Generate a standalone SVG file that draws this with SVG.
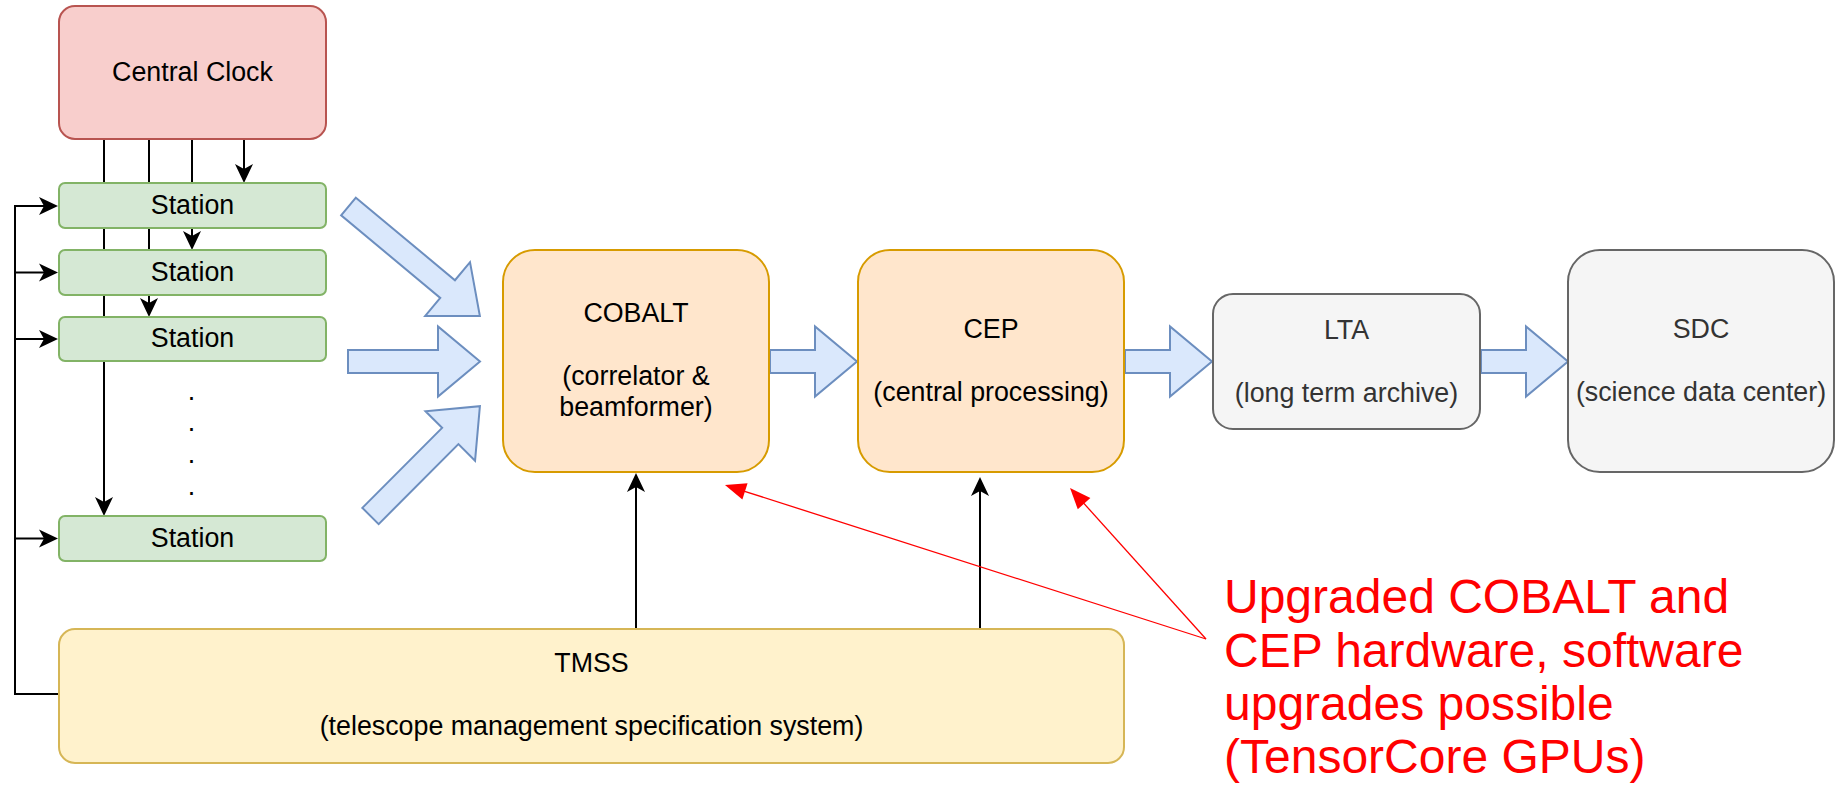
<svg xmlns="http://www.w3.org/2000/svg" width="1839" height="786" viewBox="0 0 1839 786">
  <style>
    text { font-family: "Liberation Sans", Arial, sans-serif; font-size: 26.8px; text-anchor: middle; fill: #000000; }
    .muted { fill: #333333; }
    .note { font-size: 48px; text-anchor: start; fill: #ff0000; }
    .red  { fill: #f8cecc; stroke: #b85450; stroke-width: 2; }
    .green { fill: #d5e8d4; stroke: #82b366; stroke-width: 2; }
    .orange { fill: #ffe6cc; stroke: #d79b00; stroke-width: 2; }
    .yellow { fill: #fff2cc; stroke: #d6b656; stroke-width: 2; }
    .gray { fill: #f5f5f5; stroke: #666666; stroke-width: 2; }
    .flow { fill: #dae8fc; stroke: #6c8ebf; stroke-width: 2; stroke-linejoin: miter; }
    .wire { fill: none; stroke: #000000; stroke-width: 2; }
    .hint { fill: none; stroke: #ff0000; stroke-width: 1.3; }
  </style>
  <defs>
    <!-- classic notched arrowhead; tip sits 12 units past the path end -->
    <marker id="classic" viewBox="-20 -10 21 20" refX="-12" refY="0" markerWidth="21" markerHeight="20" markerUnits="userSpaceOnUse" orient="auto">
      <path d="M0,0 L-19,-9 L-14,0 L-19,9 Z" fill="#000000"/>
    </marker>
    <!-- filled red block arrowhead -->
    <marker id="block" viewBox="-22 -10 23 20" refX="-14" refY="0" markerWidth="23" markerHeight="20" markerUnits="userSpaceOnUse" orient="auto">
      <path d="M0,0 L-21,-8.5 L-21,8.5 Z" fill="#ff0000"/>
    </marker>
    <!-- wide data-flow arrow, pointing along +x -->
    <path id="flow87" d="M0,-11.5 L45,-11.5 L45,-35 L87,0 L45,35 L45,11.5 L0,11.5 Z"/>
  </defs>

  <!-- connectors -->
  <g id="connectors">
    <!-- clock distribution to stations -->
    <path class="wire" d="M244,139 V171" marker-end="url(#classic)"/>
    <path class="wire" d="M192,139 V238" marker-end="url(#classic)"/>
    <path class="wire" d="M149,139 V305" marker-end="url(#classic)"/>
    <path class="wire" d="M104,139 V504" marker-end="url(#classic)"/>
    <!-- TMSS control bus to stations -->
    <path class="wire" d="M59,694 H15 V206 H46" marker-end="url(#classic)"/>
    <path class="wire" d="M15,272.5 H46" marker-end="url(#classic)"/>
    <path class="wire" d="M15,339 H46" marker-end="url(#classic)"/>
    <path class="wire" d="M15,538.5 H46" marker-end="url(#classic)"/>
    <!-- TMSS control of processing -->
    <path class="wire" d="M636,629 V485" marker-end="url(#classic)"/>
    <path class="wire" d="M980,629 V489" marker-end="url(#classic)"/>
    <!-- station data into COBALT -->
    <g class="flow">
      <path d="M0,-11.5 L129,-11.5 L129,-35 L171,0 L129,35 L129,11.5 L0,11.5 Z" transform="translate(348.5,206.5) rotate(39.8)"/>
      <path d="M348,350 H438 V326.5 L480,361.5 L438,396.5 V373 H348 Z"/>
      <path d="M0,-11.5 L113,-11.5 L113,-35 L155,0 L113,35 L113,11.5 L0,11.5 Z" transform="translate(370.5,516) rotate(-45.1)"/>
      <!-- downstream data flow -->
      <use href="#flow87" transform="translate(770,361.5)"/>
      <use href="#flow87" transform="translate(1125,361.5)"/>
      <use href="#flow87" transform="translate(1481,361.5)"/>
    </g>
    <!-- annotation pointers -->
    <path class="hint" d="M1206,639 L738.3,489.3" marker-end="url(#block)"/>
    <path class="hint" d="M1206,639 L1079.4,498.4" marker-end="url(#block)"/>
  </g>

  <g id="central-clock">
    <rect class="red" x="59" y="6" width="267" height="133" rx="16"/>
    <text x="192.5" y="81">Central Clock</text>
  </g>

  <g id="station-1">
    <rect class="green" x="59" y="183" width="267" height="45" rx="6"/>
    <text x="192.5" y="214">Station</text>
  </g>
  <g id="station-2">
    <rect class="green" x="59" y="250" width="267" height="45" rx="6"/>
    <text x="192.5" y="281">Station</text>
  </g>
  <g id="station-3">
    <rect class="green" x="59" y="317" width="267" height="44" rx="6"/>
    <text x="192.5" y="347">Station</text>
  </g>
  <g id="station-ellipsis">
    <text x="191.5" y="400">.</text>
    <text x="191.5" y="431">.</text>
    <text x="191.5" y="463">.</text>
    <text x="191.5" y="495">.</text>
  </g>
  <g id="station-n">
    <rect class="green" x="59" y="516" width="267" height="45" rx="6"/>
    <text x="192.5" y="547">Station</text>
  </g>

  <g id="cobalt">
    <rect class="orange" x="503" y="250" width="266" height="222" rx="32"/>
    <text x="636" y="322">COBALT</text>
    <text x="636" y="385">(correlator &amp;</text>
    <text x="636" y="416">beamformer)</text>
  </g>

  <g id="cep">
    <rect class="orange" x="858" y="250" width="266" height="222" rx="32"/>
    <text x="991" y="338">CEP</text>
    <text x="991" y="401">(central processing)</text>
  </g>

  <g id="lta">
    <rect class="gray" x="1213" y="294" width="267" height="135" rx="20"/>
    <text class="muted" x="1346.5" y="339">LTA</text>
    <text class="muted" x="1346.5" y="402">(long term archive)</text>
  </g>

  <g id="sdc">
    <rect class="gray" x="1568" y="250" width="266" height="222" rx="32"/>
    <text class="muted" x="1701" y="338">SDC</text>
    <text class="muted" x="1701" y="401">(science data center)</text>
  </g>

  <g id="tmss">
    <rect class="yellow" x="59" y="629" width="1065" height="134" rx="16"/>
    <text x="591.5" y="672">TMSS</text>
    <text x="591.5" y="735">(telescope management specification system)</text>
  </g>

  <g id="upgrade-note">
    <text class="note" x="1224" y="613">Upgraded COBALT and</text>
    <text class="note" x="1224" y="667">CEP hardware, software</text>
    <text class="note" x="1224" y="720">upgrades possible</text>
    <text class="note" x="1224" y="773">(TensorCore GPUs)</text>
  </g>
</svg>
